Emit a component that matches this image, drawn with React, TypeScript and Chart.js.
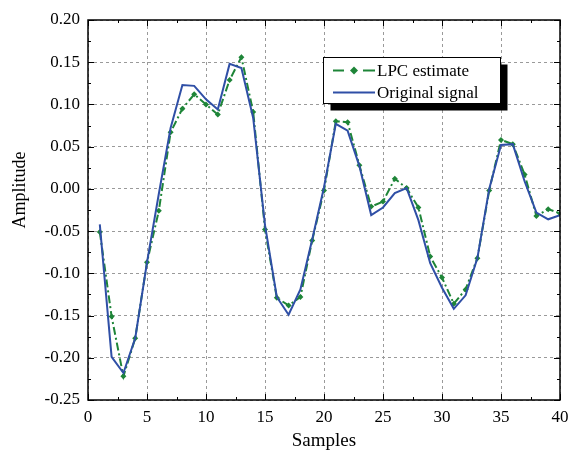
import React, { useEffect, useRef } from "react";
import { Chart, registerables } from "chart.js";

Chart.register(...registerables);

const SAMPLES = Array.from({ length: 40 }, (_, i) => i + 1);

const LPC_ESTIMATE = [
  -0.051, -0.151, -0.222, -0.177, -0.087, -0.026, 0.067, 0.095, 0.112, 0.1,
  0.088, 0.129, 0.156, 0.091, -0.048, -0.129, -0.138, -0.128, -0.061, -0.002,
  0.08, 0.079, 0.028, -0.021, -0.015, 0.012, 0.001, -0.022, -0.08, -0.105,
  -0.136, -0.119, -0.082, -0.002, 0.058, 0.053, 0.017, -0.032, -0.024, -0.029,
];

const ORIGINAL_SIGNAL = [
  -0.042, -0.199, -0.218, -0.177, -0.087, -0.006, 0.072, 0.123, 0.122, 0.106,
  0.094, 0.148, 0.143, 0.084, -0.043, -0.128, -0.149, -0.119, -0.06, 0.002,
  0.077, 0.069, 0.027, -0.031, -0.022, -0.005, 0.001, -0.037, -0.088, -0.117,
  -0.142, -0.126, -0.082, 0.0, 0.052, 0.053, 0.009, -0.028, -0.036, -0.031,
];

const X_TICKS = [0, 5, 10, 15, 20, 25, 30, 35, 40];
const Y_TICKS = [-0.25, -0.2, -0.15, -0.1, -0.05, 0, 0.05, 0.1, 0.15, 0.2];

const SERIES_NAMES = ["LPC estimate", "Original signal"];
const X_TITLE = "Samples";
const Y_TITLE = "Amplitude";

const GREEN = "#1e8538";
const BLUE = "#2f4fa6";
const FONT = "'Liberation Serif', 'Times New Roman', serif";

const framePlugin = {
  id: "frameTicksLegend",
  afterDatasetsDraw(chart: any) {
    const { ctx, chartArea } = chart;
    const { left, right, top, bottom } = chartArea;
    const xs = chart.scales.x;
    const ys = chart.scales.y;
    ctx.save();
    ctx.strokeStyle = "#000";
    ctx.lineWidth = 1;
    ctx.setLineDash([]);
    // inward ticks
    const xMinorStep = 2.5;
    for (let v = xs.min; v <= xs.max + 1e-9; v += xMinorStep) {
      const px = Math.round(xs.getPixelForValue(v)) + 0.5;
      const major = Math.abs(v / 5 - Math.round(v / 5)) < 1e-6;
      const len = major ? 6 : 3;
      ctx.beginPath();
      ctx.moveTo(px, bottom);
      ctx.lineTo(px, bottom - len);
      ctx.moveTo(px, top);
      ctx.lineTo(px, top + len);
      ctx.stroke();
    }
    const yMinorStep = 0.025;
    for (let i = 0; ; i++) {
      const v = ys.min + i * yMinorStep;
      if (v > ys.max + 1e-9) break;
      const py = Math.round(ys.getPixelForValue(v)) + 0.5;
      const major = i % 2 === 0;
      const len = major ? 6 : 3;
      ctx.beginPath();
      ctx.moveTo(left, py);
      ctx.lineTo(left + len, py);
      ctx.moveTo(right, py);
      ctx.lineTo(right - len, py);
      ctx.stroke();
    }
    // frame
    ctx.lineWidth = 1.5;
    ctx.strokeRect(left, top, right - left, bottom - top);

    // axis titles
    ctx.fillStyle = "#000";
    ctx.font = `19px ${FONT}`;
    ctx.textAlign = "center";
    ctx.textBaseline = "alphabetic";
    ctx.fillText(X_TITLE, (left + right) / 2, 446);
    ctx.font = `18px ${FONT}`;
    ctx.save();
    ctx.translate(25, 190);
    ctx.rotate(-Math.PI / 2);
    ctx.fillText(Y_TITLE, 0, 0);
    ctx.restore();

    // legend
    const bx = 323.5, by = 57.5, bw = 177, bh = 46;
    ctx.fillStyle = "#000";
    ctx.fillRect(bx + 7, by + 7, bw, bh);
    ctx.fillStyle = "#fff";
    ctx.fillRect(bx, by, bw, bh);
    ctx.strokeStyle = "#000";
    ctx.lineWidth = 1;
    ctx.strokeRect(bx, by, bw, bh);

    const ds = chart.data.datasets;
    const rows = [70.5, 92.5];
    // row 1: dashed with marker
    ctx.strokeStyle = ds[0].borderColor;
    ctx.lineWidth = 2;
    ctx.beginPath();
    ctx.moveTo(333, rows[0]);
    ctx.lineTo(344, rows[0]);
    ctx.moveTo(363, rows[0]);
    ctx.lineTo(375, rows[0]);
    ctx.stroke();
    ctx.fillStyle = ds[0].borderColor;
    ctx.beginPath();
    ctx.moveTo(354, rows[0] - 4);
    ctx.lineTo(358, rows[0]);
    ctx.lineTo(354, rows[0] + 4);
    ctx.lineTo(350, rows[0]);
    ctx.closePath();
    ctx.fill();
    // row 2: solid
    ctx.strokeStyle = ds[1].borderColor;
    ctx.beginPath();
    ctx.moveTo(333, rows[1]);
    ctx.lineTo(375, rows[1]);
    ctx.stroke();

    ctx.fillStyle = "#000";
    ctx.font = `17px ${FONT}`;
    ctx.textAlign = "left";
    ctx.textBaseline = "middle";
    ctx.fillText(ds[0].label, 377, rows[0] + 1);
    ctx.fillText(ds[1].label, 377, rows[1] + 1);
    ctx.restore();
  },
};

export default function App() {
  const canvasRef = useRef<HTMLCanvasElement | null>(null);

  useEffect(() => {
    document.body.style.margin = "0";
    const canvas = canvasRef.current;
    if (!canvas) return;
    const chart = new Chart(canvas, {
      type: "line",
      data: {
        datasets: [
          {
            label: SERIES_NAMES[0],
            data: SAMPLES.map((x, i) => ({ x, y: LPC_ESTIMATE[i] })),
            borderColor: GREEN,
            backgroundColor: GREEN,
            borderWidth: 2,
            borderDash: [8, 3, 2, 3],
            pointStyle: "rectRot",
            pointRadius: 3,
            pointBorderWidth: 0,
            tension: 0,
            order: 2,
          },
          {
            label: SERIES_NAMES[1],
            data: SAMPLES.map((x, i) => ({ x, y: ORIGINAL_SIGNAL[i] })),
            borderColor: BLUE,
            backgroundColor: BLUE,
            borderWidth: 2,
            pointRadius: 0,
            tension: 0,
            order: 1,
          },
        ],
      },
      options: {
        animation: false,
        responsive: false,
        maintainAspectRatio: false,
        layout: { padding: { top: 20, right: 9, left: 0, bottom: 0 } },
        plugins: {
          legend: { display: false },
          tooltip: { enabled: false },
        },
        scales: {
          x: {
            type: "linear",
            min: 0,
            max: 40,
            afterFit: (s: any) => {
              s.height = 50;
              s.paddingLeft = 0;
              s.paddingRight = 0;
            },
            afterBuildTicks: (s: any) => {
              s.ticks = X_TICKS.map((v) => ({ value: v }));
            },
            ticks: {
              autoSkip: false,
              maxRotation: 0,
              padding: 7,
              color: "#000",
              font: { family: FONT, size: 17 },
              callback: (v: any) => String(v),
            },
            grid: {
              drawTicks: false,
              color: "#9a9a9a",
              lineWidth: 1,
            },
            border: { display: false, dash: [3, 3] },
          },
          y: {
            type: "linear",
            min: -0.25,
            max: 0.2,
            afterFit: (s: any) => {
              s.width = 88;
              s.paddingTop = 0;
              s.paddingBottom = 0;
            },
            afterBuildTicks: (s: any) => {
              s.ticks = Y_TICKS.map((v) => ({ value: v }));
            },
            ticks: {
              autoSkip: false,
              padding: 8,
              color: "#000",
              font: { family: FONT, size: 17 },
              callback: (v: any) => (Math.abs(v) < 1e-9 ? "0.00" : Number(v).toFixed(2)),
            },
            grid: {
              drawTicks: false,
              color: "#9a9a9a",
              lineWidth: 1,
            },
            border: { display: false, dash: [3, 3] },
          },
        },
      },
      plugins: [framePlugin],
    });
    return () => chart.destroy();
  }, []);

  return (
    <div style={{ position: "absolute", left: 0, top: 0, width: 569, height: 450, background: "#fff" }}>
      <canvas ref={canvasRef} width={569} height={450} style={{ width: 569, height: 450 }} />
    </div>
  );
}
